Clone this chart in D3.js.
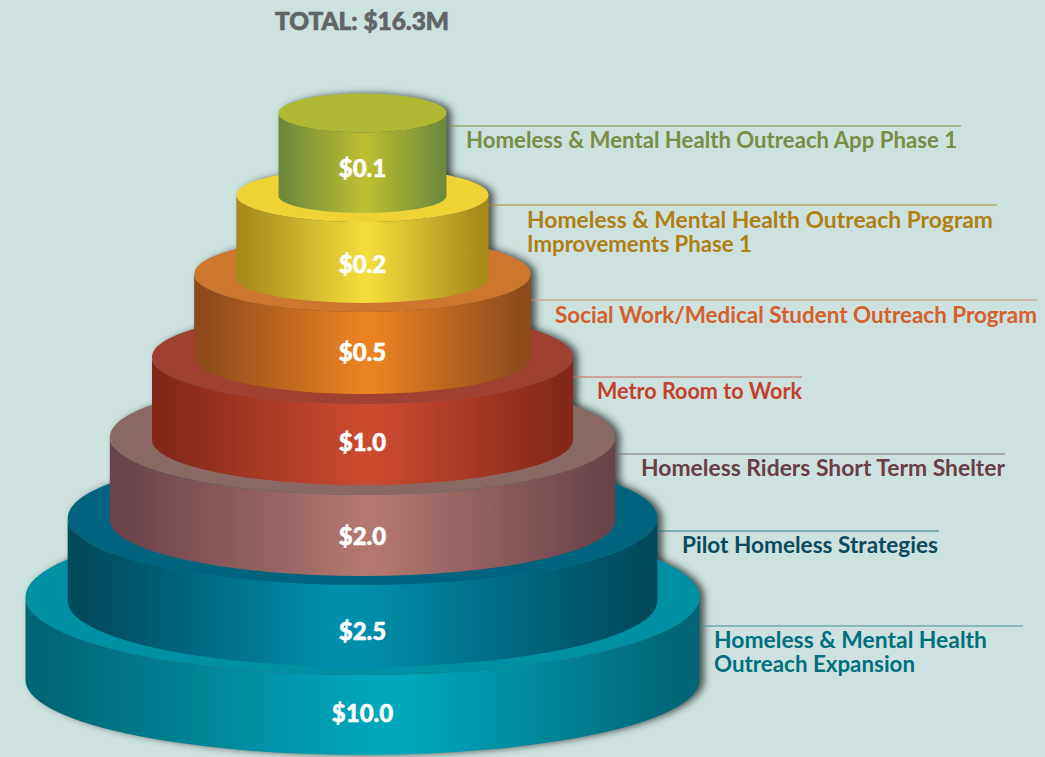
<!DOCTYPE html>
<html>
<head>
<meta charset="utf-8">
<script src="https://cdn.jsdelivr.net/npm/d3@7"></script>
<style>
  html, body { margin: 0; padding: 0; background: #cde2df; }
  svg { display: block; }
  text { font-family: Lato, "Open Sans", sans-serif; }
</style>
</head>
<body>
<script>
'use strict';

// 数据：从上到下
const categories = ['app', 'improvements', 'student', 'metro', 'shelter', 'pilot', 'expansion'];
const programLines = [
  ['Homeless & Mental Health Outreach App Phase 1'],
  ['Homeless & Mental Health Outreach Program', 'Improvements Phase 1'],
  ['Social Work/Medical Student Outreach Program'],
  ['Metro Room to Work'],
  ['Homeless Riders Short Term Shelter'],
  ['Pilot Homeless Strategies'],
  ['Homeless & Mental Health', 'Outreach Expansion']
];
const funding = [0.1, 0.2, 0.5, 1.0, 2.0, 2.5, 10.0];

const topColors = ['#afb934', '#efd236', '#cd762d', '#a04031', '#8a6864', '#00647e', '#0090a4'];
const edgeColors = ['#6f8a3a', '#a68a1a', '#8e4a1c', '#84281a', '#6b434b', '#004a5c', '#006676'];
const midColors = ['#bbbe2f', '#f3dc3c', '#ec8322', '#cc4a30', '#b27870', '#0090ae', '#00a8be'];
const textColors = ['#7a8c45', '#b07f12', '#d4602e', '#c43f2c', '#6a3d47', '#0c4a5e', '#00707e'];
const ruleColors = ['#7d8f47', '#b58a25', '#d98b6c', '#c9695a', '#8b6a70', '#2f7486', '#3f8f9a'];

const width = 1045, height = 757;
const centerX = 362.5;

// 每层的尺寸
const rx = d3.scalePoint().domain(categories).range([84, 337]);
const ry = d3.scaleOrdinal().domain(categories).range([19.5, 27, 38, 47, 58, 67, 78]);
const bottomRy = d3.scaleOrdinal().domain(categories).range([17, 25, 37, 45, 56, 66, 75]);
const topY = d3.scaleOrdinal().domain(categories).range([113, 195, 274, 357, 437, 518, 597]);
const sideEnd = d3.scaleOrdinal().domain(categories).range([196, 278, 357, 440, 520, 601, 680]);
const peak = d3.scaleOrdinal().domain(categories).range([0.5, 0.5, 0.5, 0.5, 0.5, 0.46, 0.53]);
const ruleY = d3.scaleOrdinal().domain(categories).range([126, 205, 300, 377, 454, 531, 626]);
const ruleEnd = d3.scaleOrdinal().domain(categories).range([961, 997, 1037, 802, 1005, 939, 1023]);
const textX = d3.scaleOrdinal().domain(categories).range([466, 527, 555, 597, 641, 682, 714]);
const textY = d3.scaleOrdinal().domain(categories).range([148, 228, 323, 399, 476, 553, 648]);
const textWidth = d3.scaleOrdinal().domain(categories)
  .range([[491], [466, 225], [482], [205], [364], [256], [273, 201]]);
const valueY = d3.scaleOrdinal().domain(categories).range([177, 273, 361, 451, 545, 640, 722]);

const idx = c => categories.indexOf(c);
const money = d3.format('$.1f');

function wallPath(c) {
  const l = centerX - rx(c), r = centerX + rx(c), y = topY(c), b = sideEnd(c);
  return `M${l},${y}A${rx(c)},${ry(c)} 0 0 0 ${r},${y}L${r},${b}A${rx(c)},${bottomRy(c)} 0 0 1 ${l},${b}Z`;
}

function outlinePath(c) {
  const l = centerX - rx(c), r = centerX + rx(c), y = topY(c), b = sideEnd(c);
  return `M${l},${y}A${rx(c)},${ry(c)} 0 0 1 ${r},${y}L${r},${b}A${rx(c)},${bottomRy(c)} 0 0 1 ${l},${b}Z`;
}

const svg = d3.select('body').append('svg')
  .attr('width', width)
  .attr('height', height);

const defs = svg.append('defs');

defs.append('filter')
  .attr('id', 'blur')
  .attr('x', '-10%').attr('y', '-20%')
  .attr('width', '120%').attr('height', '140%')
  .append('feGaussianBlur')
  .attr('stdDeviation', 3.5);

// 侧面的横向渐变
const grads = defs.selectAll('linearGradient')
  .data(categories)
  .join('linearGradient')
  .attr('id', c => 'wall-' + c)
  .attr('gradientUnits', 'userSpaceOnUse')
  .attr('x1', c => centerX - rx(c))
  .attr('x2', c => centerX + rx(c))
  .attr('y1', 0)
  .attr('y2', 0);

grads.append('stop').attr('offset', 0.03).attr('stop-color', c => edgeColors[idx(c)]);
grads.append('stop').attr('offset', c => peak(c)).attr('stop-color', c => midColors[idx(c)]);
grads.append('stop').attr('offset', c => peak(c) + 0.03).attr('stop-color', c => midColors[idx(c)]);
grads.append('stop').attr('offset', 0.97).attr('stop-color', c => edgeColors[idx(c)]);

// 阴影只落在背景上，所以先全部画完
svg.append('g')
  .selectAll('path')
  .data(categories)
  .join('path')
  .attr('d', outlinePath)
  .attr('transform', 'translate(5,0)')
  .attr('fill', '#2e3533')
  .attr('opacity', 0.8)
  .attr('filter', 'url(#blur)');

// 引线
svg.append('g')
  .selectAll('line')
  .data(categories)
  .join('line')
  .attr('x1', c => centerX + rx(c))
  .attr('x2', c => ruleEnd(c))
  .attr('y1', c => ruleY(c))
  .attr('y2', c => ruleY(c))
  .attr('stroke', c => ruleColors[idx(c)])
  .attr('stroke-width', 1);

// 从下往上画每一层
const tiers = svg.append('g')
  .selectAll('g')
  .data(categories.slice().reverse())
  .join('g');

tiers.append('path')
  .attr('d', wallPath)
  .attr('fill', c => `url(#wall-${c})`);

tiers.append('ellipse')
  .attr('cx', centerX)
  .attr('cy', c => topY(c))
  .attr('rx', c => rx(c))
  .attr('ry', c => ry(c))
  .attr('fill', c => topColors[idx(c)]);

// 金额
svg.append('g')
  .selectAll('text')
  .data(categories)
  .join('text')
  .attr('x', centerX)
  .attr('y', c => valueY(c))
  .attr('text-anchor', 'middle')
  .attr('font-size', 24)
  .attr('font-weight', 900)
  .attr('fill', '#fff')
  .attr('stroke', '#fff')
  .attr('stroke-width', 0.5)
  .text(c => money(funding[idx(c)]));

// 项目名称
const labels = svg.append('g')
  .selectAll('text')
  .data(categories)
  .join('text')
  .attr('font-size', 22)
  .attr('font-weight', 700)
  .attr('fill', c => textColors[idx(c)]);

labels.selectAll('tspan')
  .data(c => programLines[idx(c)].map((line, i) => ({ c, line, i })))
  .join('tspan')
  .attr('x', d => textX(d.c))
  .attr('y', d => textY(d.c) + d.i * 24)
  .attr('textLength', d => textWidth(d.c)[d.i])
  .attr('lengthAdjust', 'spacingAndGlyphs')
  .text(d => d.line);

svg.append('text')
  .attr('x', 275)
  .attr('y', 30)
  .attr('font-size', 24)
  .attr('font-weight', 900)
  .attr('fill', '#636466')
  .attr('stroke', '#636466')
  .attr('stroke-width', 0.7)
  .attr('textLength', 174)
  .attr('lengthAdjust', 'spacingAndGlyphs')
  .text(`TOTAL: ${money(d3.sum(funding))}M`);
</script>
</body>
</html>
